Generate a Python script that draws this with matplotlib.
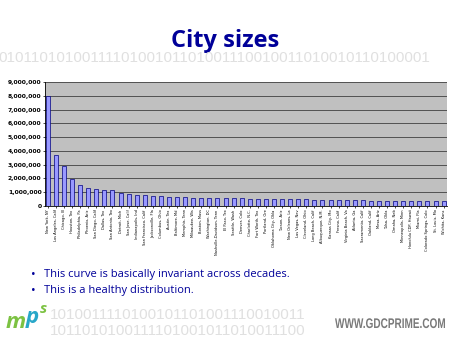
import matplotlib
matplotlib.use('Agg')
import matplotlib.pyplot as plt
from matplotlib.ticker import FuncFormatter
from matplotlib.textpath import TextPath
from matplotlib.patches import PathPatch
from matplotlib.font_manager import FontProperties
from matplotlib.transforms import Affine2D
import numpy as np

# largest US cities, census population
cities = ['New York, NY', 'Los Angeles, Calif', 'Chicago, Ill', 'Houston, Tex', 'Philadelphia, Pa',
          'Phoenix, Ariz', 'San Diego, Calif', 'Dallas, Tex', 'San Antonio, Tex', 'Detroit, Mich',
          'San Jose, Calif', 'Indianapolis, Ind', 'San Francisco, Calif', 'Jacksonville, Fla',
          'Columbus, Ohio', 'Austin, Tex', 'Baltimore, Md', 'Memphis, Tenn', 'Milwaukee, Wis',
          'Boston, Mass', 'Washington, DC', 'Nashville-Davidson, Tenn', 'El Paso, Tex',
          'Seattle, Wash', 'Denver, Colo', 'Charlotte, N.C.', 'Fort Worth, Tex', 'Portland, Ore',
          'Oklahoma City, Okla', 'Tucson, Ariz', 'New Orleans, La', 'Las Vegas, Nev',
          'Cleveland, Ohio', 'Long Beach, Calif', 'Albuquerque, N.M.', 'Kansas City, Mo',
          'Fresno, Calif', 'Virginia Beach, Va', 'Atlanta, Ga', 'Sacramento, Calif',
          'Oakland, Calif', 'Mesa, Ariz', 'Tulsa, Okla', 'Omaha, Neb', 'Minneapolis, Minn',
          'Honolulu CDP, Hawaii', 'Miami, Fla', 'Colorado Springs, Colo', 'St. Louis, Mo',
          'Wichita, Kans']
population = [8008278, 3694820, 2896016, 1953631, 1517550, 1321045, 1223400, 1188580,
              1144646, 951270, 894943, 781870, 776733, 735617, 711470, 656562, 651154,
              650100, 596974, 589141, 572059, 569891, 563662, 563374, 554636, 540828,
              534694, 529121, 506132, 486699, 484674, 478434, 478403, 461522, 448607,
              441545, 427652, 425257, 416474, 407018, 399484, 396375, 393049, 390007,
              382618, 371657, 362470, 360890, 348189, 344284]
yticks = np.arange(0, 9000001, 1000000)

bullets = ['This curve is basically invariant across decades.',
           'This is a healthy distribution.']
binary_top = '0101101010011110100101101001110010011010010110100001'
binary_b1 = '1010011110100101101001110010011'
binary_b2 = '1011010100111101001011010011100'

navy = '#000099'
plt.rcParams['font.family'] = ['Open Sans', 'DejaVu Sans']

fig = plt.figure(figsize=(4.5, 3.38), dpi=100)
fig.patch.set_facecolor('white')

# slide decoration
fig.text(0.5, 0.878, 'City sizes', ha='center', va='center', fontsize=17,
         fontweight='bold', color=navy)
fig.text(-0.003, 0.828, binary_top, ha='left', va='center', fontsize=11,
         family='Liberation Sans', color='#e0e0e0')
fig.text(0.11, 0.068, binary_b1, ha='left', va='center', fontsize=11,
         family='Liberation Sans', color='#e0e0e0')
fig.text(0.11, 0.022, binary_b2, ha='left', va='center', fontsize=11,
         family='Liberation Sans', color='#e0e0e0')

# condensed web address, drawn as a squeezed text path (pixel coords)
tp = TextPath((0, 0), 'WWW.GDCPRIME.COM', size=14,
              prop=FontProperties(family='Liberation Sans', weight='bold'))
tw = tp.get_extents().width
tr = Affine2D().scale(110.0 / tw, 1.0).translate(335, 338 - 328)
web = PathPatch(tr.transform_path(tp), facecolor='#7a7a7a', edgecolor='none')
web.set_transform(Affine2D())
fig.patches.append(web)

fig.text(0.012, 0.045, 'm', ha='left', va='center', fontsize=16, fontweight='bold',
         style='italic', color='#7cc242')
fig.text(0.058, 0.06, 'p', ha='left', va='center', fontsize=16, fontweight='bold',
         style='italic', color='#28a7c9')
fig.text(0.088, 0.085, 's', ha='left', va='center', fontsize=11, fontweight='bold',
         style='italic', color='#7cc242')

for i, b in enumerate(bullets):
    y = 0.188 - i * 0.048
    fig.text(0.068, y, u'\u2022', ha='left', va='center', fontsize=9, color=navy)
    fig.text(0.098, y, b, ha='left', va='center', fontsize=8, color=navy)

# chart
ax = fig.add_axes([0.1, 0.3905, 0.893, 0.367])
ax.set_facecolor('#c0c0c0')
x = np.arange(len(cities))
ax.bar(x, population, width=0.5, color='#9999ff', edgecolor='#000080', linewidth=0.5, zorder=3)
ax.set_xlim(-0.35, len(cities) - 0.6)
ax.set_ylim(0, 9000000)
ax.set_yticks(yticks)
ax.yaxis.set_major_formatter(FuncFormatter(lambda v, p: '{:,.0f}'.format(v)))
ax.grid(axis='y', color='#404040', linewidth=0.6, zorder=1)
ax.set_xticks(x)
ax.set_xticklabels(cities, rotation=90, fontsize=2.6, family='DejaVu Sans')
for lab in ax.get_yticklabels():
    lab.set_fontsize(4.3)
    lab.set_fontweight('bold')
    lab.set_family('DejaVu Sans')
ax.tick_params(axis='both', length=1.5, width=0.5, pad=1)
for s in ['top', 'right']:
    ax.spines[s].set_visible(False)
ax.spines['left'].set_linewidth(0.6)
ax.spines['bottom'].set_linewidth(0.6)

fig.savefig('out.png', dpi=100)
